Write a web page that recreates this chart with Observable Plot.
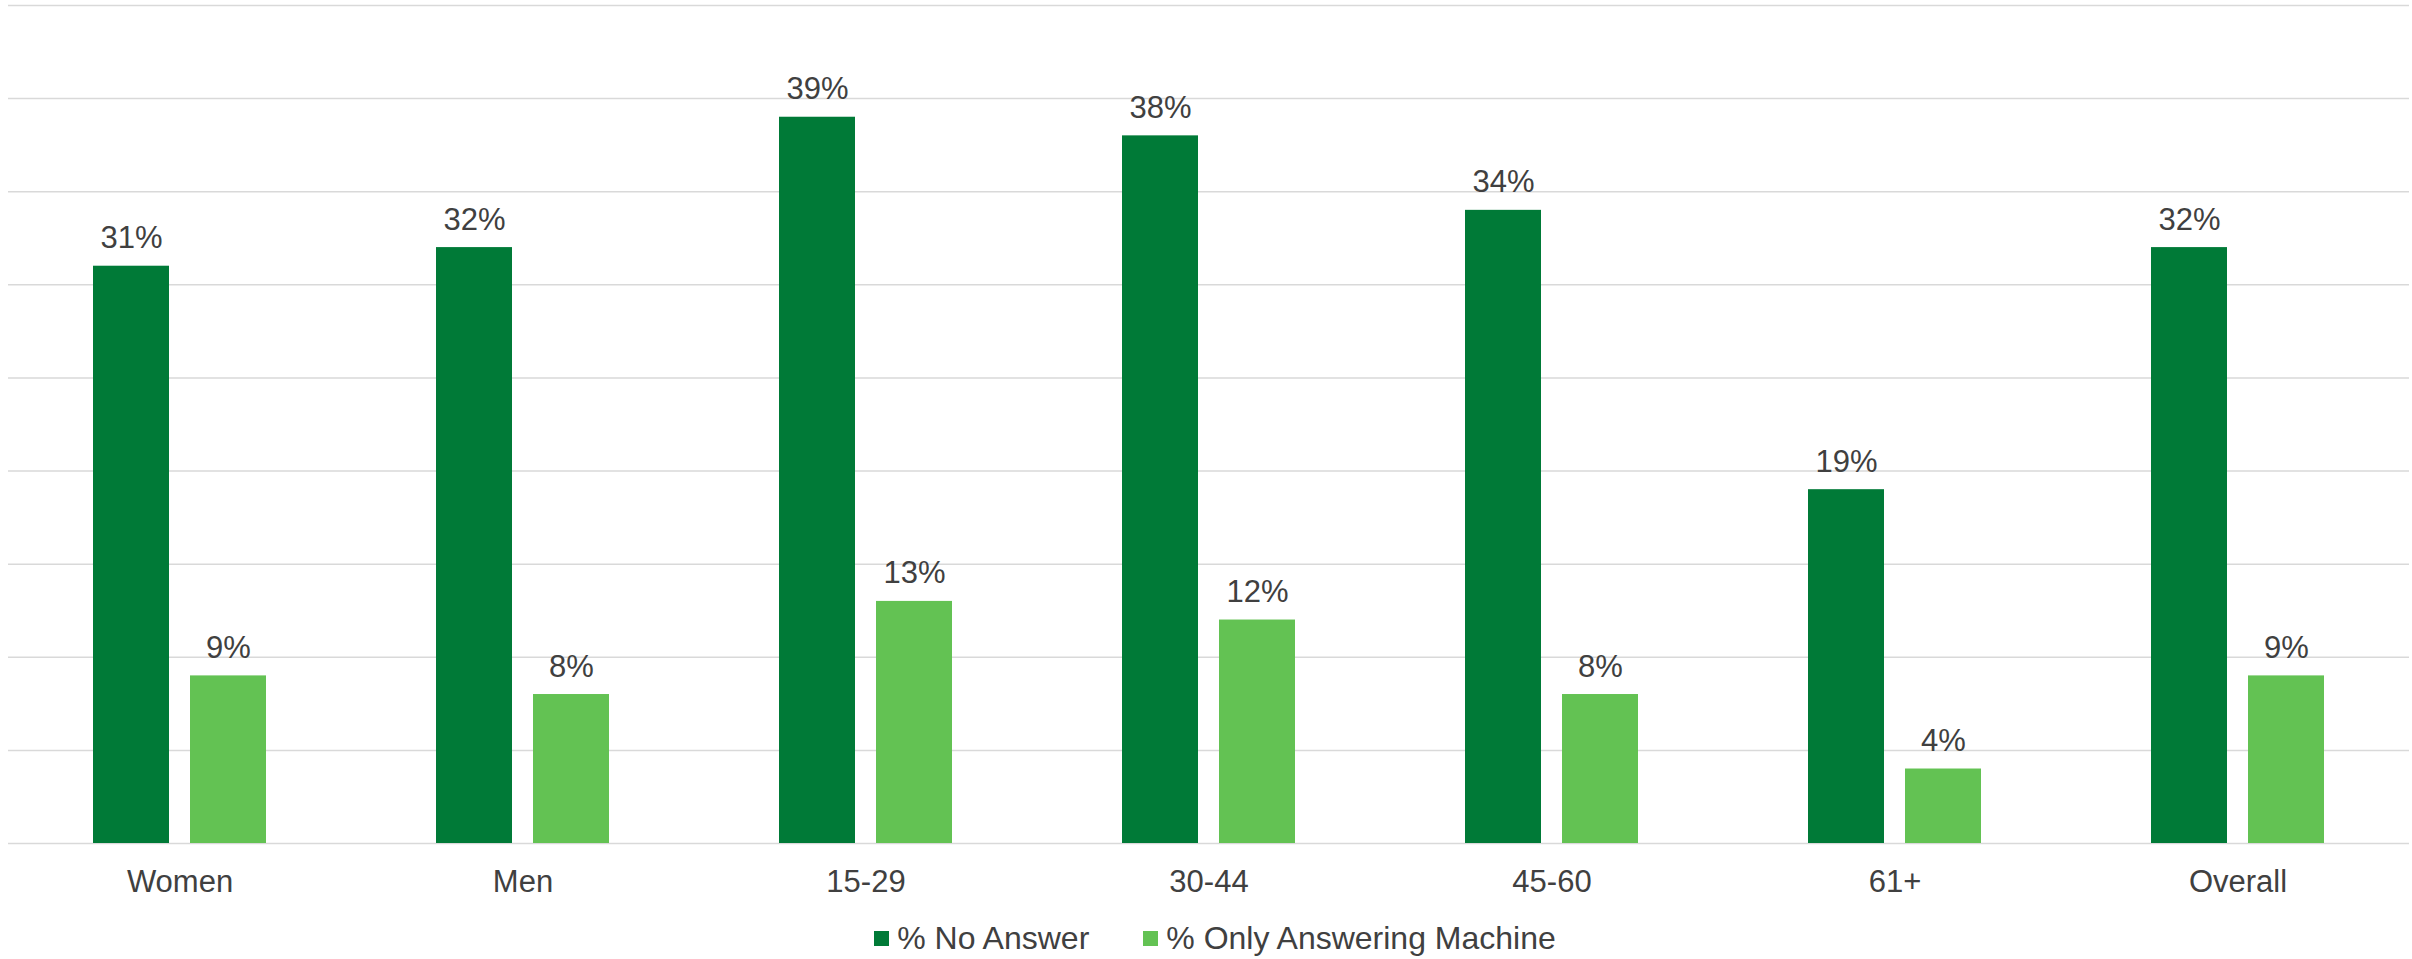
<!DOCTYPE html>
<html>
<head>
<meta charset="utf-8">
<script src="https://cdn.jsdelivr.net/npm/d3@7"></script>
<script src="https://cdn.jsdelivr.net/npm/@observablehq/plot@0.6"></script>
<style>
  html, body { margin: 0; padding: 0; background: #fff; overflow: hidden; }
  body { font-family: "Liberation Sans", Arial, sans-serif; color: #404040; }
  #legend { display: flex; justify-content: center; align-items: center; height: 54px; font-size: 32px; margin-top: 6px; padding-left: 18px; }
  .item { display: flex; align-items: center; margin: 0 27px; }
  .sw { width: 15px; height: 15px; margin-right: 8px; }
</style>
</head>
<body>
<div id="chart"></div>
<div id="legend"></div>
<script>
const categories = ["Women", "Men", "15-29", "30-44", "45-60", "61+", "Overall"];
const seriesNames = ["% No Answer", "% Only Answering Machine"];
const noAnswer = [31, 32, 39, 38, 34, 19, 32];
const answeringMachine = [9, 8, 13, 12, 8, 4, 9];
const yTicks = [0, 5, 10, 15, 20, 25, 30, 35, 40, 45];
const colors = ["#007A37", "#63C253"];

const rows = [];
categories.forEach((c, i) => {
  rows.push({category: c, series: seriesNames[0], value: noAnswer[i]});
  rows.push({category: c, series: seriesNames[1], value: answeringMachine[i]});
});

const chart = Plot.plot({
  width: 2412,
  height: 905,
  marginLeft: 6,
  marginRight: 1,
  marginTop: 5,
  marginBottom: 62,
  style: {fontFamily: '"Liberation Sans", Arial, sans-serif', fontSize: "31px", color: "#404040", background: "#fff"},
  fx: {domain: categories, padding: 0, label: null, axis: "bottom", tickSize: 0, tickPadding: 26},
  x: {domain: seriesNames, paddingInner: 0.214, paddingOuter: 0.86, axis: null},
  y: {domain: [0, 45], axis: null},
  color: {domain: seriesNames, range: colors},
  marks: [
    Plot.gridY(yTicks, {stroke: "#d9d9d9", strokeOpacity: 1, strokeWidth: 1.5}),
    Plot.barY(rows, {fx: "category", x: "series", y: "value", fill: "series"}),
    Plot.text(rows, {fx: "category", x: "series", y: "value", text: d => `${d.value}%`, lineAnchor: "bottom", dy: -18, fill: "#404040"})
  ]
});
document.getElementById("chart").appendChild(chart);

const legend = document.getElementById("legend");
seriesNames.forEach((s, i) => {
  const item = document.createElement("div");
  item.className = "item";
  const sw = document.createElement("div");
  sw.className = "sw";
  sw.style.background = colors[i];
  const t = document.createElement("span");
  t.textContent = s;
  item.appendChild(sw);
  item.appendChild(t);
  legend.appendChild(item);
});
</script>
</body>
</html>
